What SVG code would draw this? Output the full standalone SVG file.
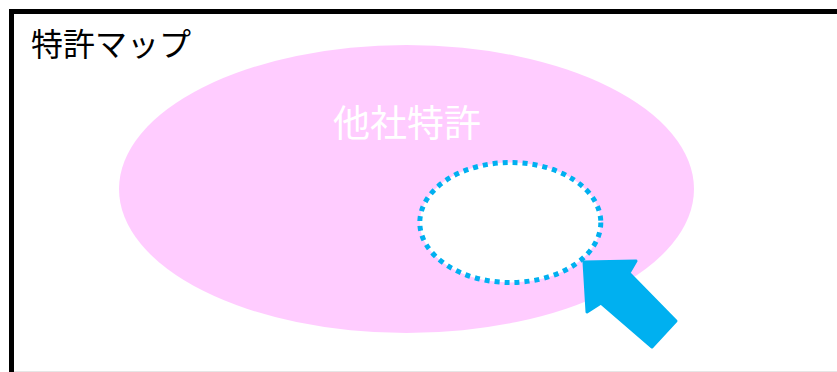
<svg xmlns="http://www.w3.org/2000/svg" width="837" height="372" viewBox="0 0 837 372">
<style>
.t{font-family:"Noto Sans CJK JP","Noto Sans",sans-serif}
</style>
<rect width="837" height="372" fill="#ffffff"/>
<g id="frame">
<rect x="11.5" y="11.5" width="840" height="380" fill="none" stroke="#000" stroke-width="5"/>
<line x1="14" y1="371.5" x2="837" y2="371.5" stroke="#e6e6e6" stroke-width="1"/>
<text class="t" x="31" y="56" font-size="32" fill="#000">特許マップ</text>
</g>
<g id="others">
<ellipse cx="406.5" cy="189" rx="287.5" ry="144" fill="#ffccff"/>
<text class="t" x="407" y="137" font-size="37" fill="#fff" text-anchor="middle">他社特許</text>
</g>
<g id="gap">
<ellipse cx="510.3" cy="222.5" rx="90.5" ry="60" fill="#fff" stroke="#00b0f0" stroke-width="5" stroke-dasharray="5 5"/>
</g>
<g id="connectors">
<polygon points="584,262 636,261 629,273 676,321 652,347 601,303 587,312" fill="#00b0f0" stroke="#00b0f0" stroke-width="3" stroke-linejoin="round"/>
</g>
</svg>
